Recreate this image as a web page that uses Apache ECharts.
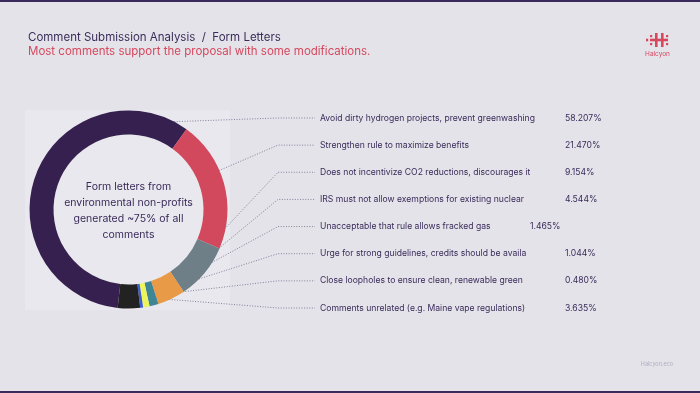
<!DOCTYPE html>
<html>
<head>
<meta charset="utf-8">
<script src="https://cdn.jsdelivr.net/npm/echarts@6/dist/echarts.min.js"></script>
<style>
html,body{margin:0;padding:0;background:#e4e3e9;}
#chart{width:700px;height:393px;}
</style>
</head>
<body>
<div id="chart"></div>
<script>
// ---- data ----
const categories = [
  'Avoid dirty hydrogen projects, prevent greenwashing',
  'Strengthen rule to maximize benefits',
  'Does not incentivize CO2 reductions, discourages it',
  'IRS must not allow exemptions for existing nuclear',
  'Unacceptable that rule allows fracked gas',
  'Urge for strong guidelines, credits should be availa',
  'Close loopholes to ensure clean, renewable green',
  'Comments unrelated (e.g. Maine vape regulations)'
];
const shares = [58.207, 21.470, 9.154, 4.544, 1.465, 1.044, 0.480, 3.635];
const shareLabels = ['58.207%', '21.470%', '9.154%', '4.544%', '1.465%', '1.044%', '0.480%', '3.635%'];
const sliceColors = ['#36204f', '#d2495d', '#6e7f88', '#e89a47', '#3e8696', '#eef55c', '#3c5fcf', '#222222'];
const centerLines = ['Form letters from', 'environmental non-profits', 'generated ~75% of all', 'comments'];
const titleText = 'Comment Submission Analysis  /  Form Letters';
const subtitleText = 'Most comments support the proposal with some modifications.';

// ---- layout constants ----
const CX = 128.5, CY = 209.5, R_IN = 75, R_OUT = 99;
const START_CW = 186.3;            // start of first slice, degrees clockwise from 12 o'clock
const ROW_TOP = 118, ROW_STEP = 27.14;
const BEND_X = 278, LINE_END_X = 315, LABEL_X = 320;
const ANCHOR_R = 88;
const FONT = 'Inter, "Noto Sans", sans-serif';
const TEXT_COLOR = '#3a2b5a';

const cum = [];
shares.reduce((acc, v, i) => { cum[i] = acc; return acc + v; }, 0);
const total = shares.reduce((a, b) => a + b, 0);

const chart = echarts.init(document.getElementById('chart'), null, {renderer: 'canvas'});

const option = {
  backgroundColor: '#e4e3e9',
  animation: false,
  title: {
    text: titleText,
    subtext: subtitleText,
    left: 28, top: 32, itemGap: 2, padding: 0,
    textStyle: {fontFamily: FONT, fontSize: 11.5, fontWeight: 'normal', color: '#3b2c5b'},
    subtextStyle: {fontFamily: FONT, fontSize: 11.5, color: '#d6485d'}
  },
  graphic: [
    {type: 'rect', shape: {x: 0, y: 0, width: 700, height: 2}, style: {fill: '#3a2a5c'}, silent: true},
    {type: 'rect', shape: {x: 0, y: 391, width: 700, height: 2}, style: {fill: '#3a2a5c'}, silent: true},
    {type: 'rect', z: -1, shape: {x: 25, y: 110, width: 205, height: 200}, style: {fill: '#e9e8ee'}, silent: true},
    {type: 'text', x: CX, y: CY + 1, style: {
      text: centerLines.join('\n'), fill: TEXT_COLOR, font: '10.5px ' + FONT,
      align: 'center', verticalAlign: 'middle', lineHeight: 16
    }},
    // logo
    {type: 'group', x: 646, y: 33, children: [
      {type: 'rect', shape: {x: 9, y: 0, width: 2.6, height: 14}, style: {fill: '#d6485d'}},
      {type: 'rect', shape: {x: 15, y: 0, width: 2.6, height: 14}, style: {fill: '#d6485d'}},
      {type: 'rect', shape: {x: 4, y: 5.7, width: 18, height: 2.6}, style: {fill: '#d6485d'}},
      {type: 'rect', shape: {x: 0, y: 5.7, width: 2.2, height: 2.6}, style: {fill: '#d6485d'}},
      {type: 'rect', shape: {x: 4, y: 2, width: 2.2, height: 2.2}, style: {fill: '#d6485d'}},
      {type: 'rect', shape: {x: 4, y: 10, width: 2.2, height: 2.2}, style: {fill: '#d6485d'}},
      {type: 'rect', shape: {x: 20, y: 2, width: 2.2, height: 2.2}, style: {fill: '#d6485d'}},
      {type: 'rect', shape: {x: 20, y: 10, width: 2.2, height: 2.2}, style: {fill: '#d6485d'}}
    ]},
    {type: 'text', x: 657.5, y: 54, style: {text: 'Halcyon', fill: '#d6485d', font: '6.5px ' + FONT, align: 'center', verticalAlign: 'middle'}},
    {type: 'text', x: 657, y: 364, style: {text: 'Halcyon.eco', fill: '#b3afc2', font: '5.5px ' + FONT, align: 'center', verticalAlign: 'middle'}}
  ],
  series: [{
    type: 'pie',
    center: [CX, CY],
    radius: [R_IN, R_OUT],
    startAngle: 90 - START_CW,
    clockwise: true,
    avoidLabelOverlap: false,
    silent: true,
    itemStyle: {borderWidth: 0},
    data: categories.map((c, i) => ({name: c, value: shares[i], itemStyle: {color: sliceColors[i]}})),
    label: {
      show: true,
      position: 'outside',
      formatter: p => (p.dataIndex === 4 ? '{m|' : '{n|') + p.name + '}{v|' + shareLabels[p.dataIndex] + '}',
      rich: {
        n: {width: 245, fontFamily: FONT, fontSize: 8.6, color: TEXT_COLOR},
        m: {width: 210, fontFamily: FONT, fontSize: 8.6, color: TEXT_COLOR},
        v: {fontFamily: FONT, fontSize: 8.6, color: TEXT_COLOR}
      }
    },
    labelLine: {
      show: true,
      lineStyle: {color: '#857f9b', width: 1, type: [1, 1.6]}
    },
    labelLayout: function (p) {
      const i = p.dataIndex;
      const y = ROW_TOP + i * ROW_STEP;
      const a0 = START_CW + cum[i] / total * 360;
      const a1 = a0 + shares[i] / total * 360;
      const m = (a1 - a0) * 0.04;
      let ang = Math.atan2(BEND_X - CX, -(y - CY)) * 180 / Math.PI;
      while (ang < a0) ang += 360;
      let r = ANCHOR_R;
      if (ang > a1) {
        ang = (ang - a1) < (a0 + 360 - ang) ? a1 - m : a0 + m;
        if (i === 0) r = R_OUT;
      }
      const rad = ang * Math.PI / 180;
      const sx = CX + r * Math.sin(rad);
      const sy = CY - r * Math.cos(rad);
      return {
        x: LABEL_X, y: y, align: 'left', verticalAlign: 'middle',
        labelLinePoints: [[sx, sy], [BEND_X, y], [LINE_END_X, y]]
      };
    }
  }]
};
chart.setOption(option);
</script>
</body>
</html>
